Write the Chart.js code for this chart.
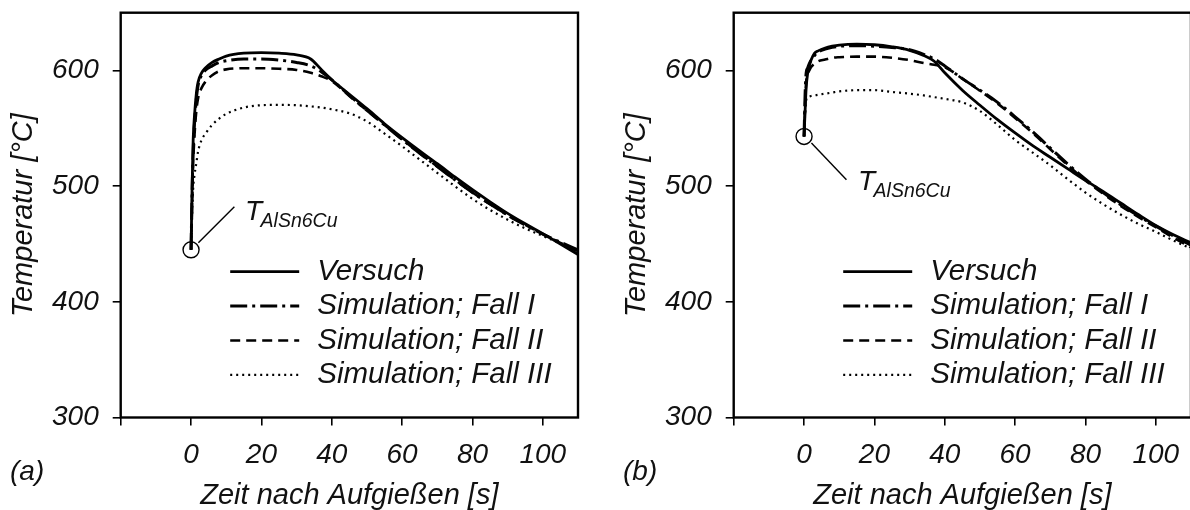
<!DOCTYPE html>
<html>
<head>
<meta charset="utf-8">
<script src="https://cdn.jsdelivr.net/npm/chart.js@4.4.0/dist/chart.umd.min.js"></script>
<style>
  html, body { margin: 0; padding: 0; background: #fff; overflow: hidden; }
  #wrap { position: relative; width: 1190px; height: 510px; overflow: hidden; }
  .panel { position: absolute; top: 0; }
</style>
</head>
<body>
<div id="wrap">
  <canvas id="chartA" class="panel" width="600" height="510" style="left:0px"></canvas>
  <canvas id="chartB" class="panel" width="600" height="510" style="left:613px"></canvas>
</div>
<script>
// Zeitachse [s], gemeinsam fuer beide Diagramme
var zeit = [0, 0.3, 0.6, 1, 1.5, 2, 3, 4, 6, 8, 10, 15, 20, 25, 30, 34, 37, 40, 45, 50, 55, 60, 65, 70, 75, 80, 85, 90, 95, 100, 105, 110];

// (a) Temperaturen [°C]
var versuchA = [445, 500, 540, 562, 580, 590, 598, 602, 607, 610, 612.5, 615, 615.5, 615, 613.5, 610, 601, 592, 579.5, 567, 554, 542, 530.5, 519.5, 508, 497, 486.5, 476.5, 467.5, 459, 450, 441];
var fall1A = [445, 495, 530, 555, 575, 587, 596, 600, 604, 607, 608.5, 610, 610, 609, 607, 604, 599, 592, 578.5, 565.5, 553, 540.5, 528.5, 517, 505.5, 494.5, 484.5, 475, 466.5, 458.5, 451.5, 445];
var fall2A = [445, 485, 520, 545, 565, 576, 585, 590, 596, 599.5, 601, 602, 602, 601.5, 600.5, 598, 595, 591, 578, 565.5, 553, 540.5, 528.5, 517, 505.5, 494.5, 484.5, 475, 466.5, 458.5, 451, 443.5];
var fall3A = [445, 475, 498, 510, 520, 530, 540, 545, 553, 558.5, 562.5, 568, 570, 570.3, 570, 569, 568, 566.5, 563, 556, 545.5, 534.5, 523, 511.5, 500, 489, 479.5, 471, 463.5, 457, 450.5, 444.5];

// (b) Temperaturen [°C]
var versuchB = [543, 565, 585, 597, 604, 609, 615, 617, 619.5, 621, 622, 622.8, 622.3, 620.5, 617.5, 613, 608, 598, 583, 570, 557.5, 546, 535, 525, 515, 505, 495.5, 485.5, 475.5, 466, 458, 451];
var fall1B = [543, 580, 598, 602, 606, 609, 613, 616, 618.5, 620, 621, 621.5, 621, 620, 618, 614, 610, 604, 593, 583, 572.5, 560, 547, 533, 519, 506, 494.5, 484, 474.5, 465.5, 457, 449];
var fall2B = [543, 570, 590, 597, 600, 603, 606, 608, 609.5, 611, 611.5, 612, 612, 611, 609, 606.5, 605, 603, 593, 582.5, 571.5, 559, 546, 532, 518, 505, 493.5, 483, 473.5, 464.5, 455.5, 447];
var fall3B = [543, 562, 574, 577, 577.5, 578, 578.5, 579, 580, 581, 582, 583, 583, 581.5, 580, 578.5, 577, 575.5, 572.5, 565, 553, 540, 529, 518, 506, 494.5, 484.5, 475.5, 467.5, 460.5, 453, 446];

var reihen = ['Versuch', 'Simulation; Fall I', 'Simulation; Fall II', 'Simulation; Fall III'];
var xTicks = [-20, 0, 20, 40, 60, 80, 100];
var yTicks = [300, 400, 500, 600];

var schrift = '"Liberation Sans", Arial, sans-serif';
var linien = [
    { width: 2.8, dash: [] },
    { width: 3, dash: [17, 5, 3, 5] },
    { width: 2.6, dash: [10, 6] },
    { width: 2.2, dash: [2, 4] }
];

// Rahmen, Legende, Markierung T_AlSn6Cu und Teilbild-Buchstabe
var extras = {
    id: 'extras',
    afterDatasetsDraw: function (chart, args, o) {
        var ctx = chart.ctx, a = chart.chartArea;
        var sx = chart.scales.x, sy = chart.scales.y;
        ctx.save();
        ctx.strokeStyle = '#000';
        ctx.lineWidth = 2.4;
        ctx.setLineDash([]);
        ctx.strokeRect(a.left, a.top, a.right - a.left, a.bottom - a.top);

        // Legende
        chart.data.datasets.forEach(function (ds, i) {
            var y = a.top + 259 + i * 34.4;
            ctx.beginPath();
            ctx.lineWidth = ds.borderWidth;
            ctx.setLineDash(ds.borderDash);
            ctx.moveTo(a.left + 109.5, y);
            ctx.lineTo(a.left + 178.5, y);
            ctx.stroke();
            ctx.setLineDash([]);
            ctx.fillStyle = '#111';
            ctx.font = 'italic 29.5px ' + schrift;
            ctx.textBaseline = 'middle';
            ctx.textAlign = 'left';
            ctx.fillText(ds.label, a.left + 196.5, y);
        });

        // Startpunkt mit Beschriftung
        var px = sx.getPixelForValue(zeit[0]);
        var py = sy.getPixelForValue(chart.data.datasets[0].data[0].y);
        var m = o.marke;
        ctx.lineWidth = 1.4;
        ctx.beginPath();
        ctx.arc(px, py, 8, 0, Math.PI * 2);
        ctx.stroke();
        ctx.beginPath();
        ctx.moveTo(px + m.l0[0], py + m.l0[1]);
        ctx.lineTo(px + m.l1[0], py + m.l1[1]);
        ctx.stroke();
        ctx.fillStyle = '#111';
        ctx.textBaseline = 'alphabetic';
        ctx.font = 'italic 28px ' + schrift;
        ctx.fillText('T', px + m.t[0], py + m.t[1]);
        ctx.font = 'italic 19.5px ' + schrift;
        ctx.fillText('AlSn6Cu', px + m.t[0] + 15.5, py + m.t[1] + 7);

        // (a) / (b)
        ctx.font = 'italic 28px ' + schrift;
        ctx.textBaseline = 'middle';
        ctx.fillText(o.teil, 10, 472);
        ctx.restore();
    }
};

function diagramm(id, werte, teil, marke) {
    var datasets = werte.map(function (w, i) {
        return {
            label: reihen[i],
            data: zeit.map(function (t, k) { return { x: t, y: w[k] }; }),
            borderColor: '#000',
            borderWidth: linien[i].width,
            borderDash: linien[i].dash,
            borderCapStyle: 'butt',
            pointRadius: 0,
            fill: false,
            cubicInterpolationMode: 'monotone'
        };
    });

    return new Chart(document.getElementById(id).getContext('2d'), {
        type: 'line',
        data: { datasets: datasets },
        options: {
            responsive: false,
            animation: false,
            devicePixelRatio: 1,
            layout: { padding: { top: 12.7, right: 22, left: 0, bottom: 0 } },
            plugins: {
                legend: { display: false },
                tooltip: { enabled: false },
                extras: { teil: teil, marke: marke }
            },
            scales: {
                x: {
                    type: 'linear',
                    min: -20,
                    max: 110,
                    afterBuildTicks: function (s) { s.ticks = xTicks.map(function (v) { return { value: v }; }); },
                    afterFit: function (s) { s.height = 92.5; s.paddingLeft = 0; s.paddingRight = 0; },
                    border: { display: false },
                    grid: { drawOnChartArea: false, drawTicks: true, tickLength: 8, color: '#000', lineWidth: 1.6 },
                    ticks: {
                        color: '#111',
                        padding: 13,
                        maxRotation: 0,
                        font: { family: schrift, size: 28, style: 'italic' },
                        callback: function (v) { return v < 0 ? '' : v; }
                    },
                    title: {
                        display: true,
                        text: 'Zeit nach Aufgießen [s]',
                        color: '#111',
                        padding: { top: 0, bottom: 0 },
                        font: { family: schrift, size: 29, style: 'italic', lineHeight: 1 }
                    }
                },
                y: {
                    min: 300,
                    max: 650,
                    afterBuildTicks: function (s) { s.ticks = yTicks.map(function (v) { return { value: v }; }); },
                    afterFit: function (s) { s.width = 120.7; s.paddingTop = 0; s.paddingBottom = 0; },
                    border: { display: false },
                    grid: { drawOnChartArea: false, drawTicks: true, tickLength: 8, color: '#000', lineWidth: 1.6 },
                    ticks: {
                        color: '#111',
                        padding: 14,
                        font: { family: schrift, size: 28, style: 'italic' }
                    },
                    title: {
                        display: true,
                        text: 'Temperatur [°C]',
                        color: '#111',
                        padding: { top: 9, bottom: 0 },
                        font: { family: schrift, size: 29, style: 'italic', lineHeight: 1 }
                    }
                }
            }
        },
        plugins: [extras]
    });
}

diagramm('chartA', [versuchA, fall1A, fall2A, fall3A], '(a)',
    { l0: [7.3, -7], l1: [43.3, -43], t: [54, -30] });
diagramm('chartB', [versuchB, fall1B, fall2B, fall3B], '(b)',
    { l0: [7.4, 6.6], l1: [42.4, 43.3], t: [54, 53.5] });
</script>
</body>
</html>
